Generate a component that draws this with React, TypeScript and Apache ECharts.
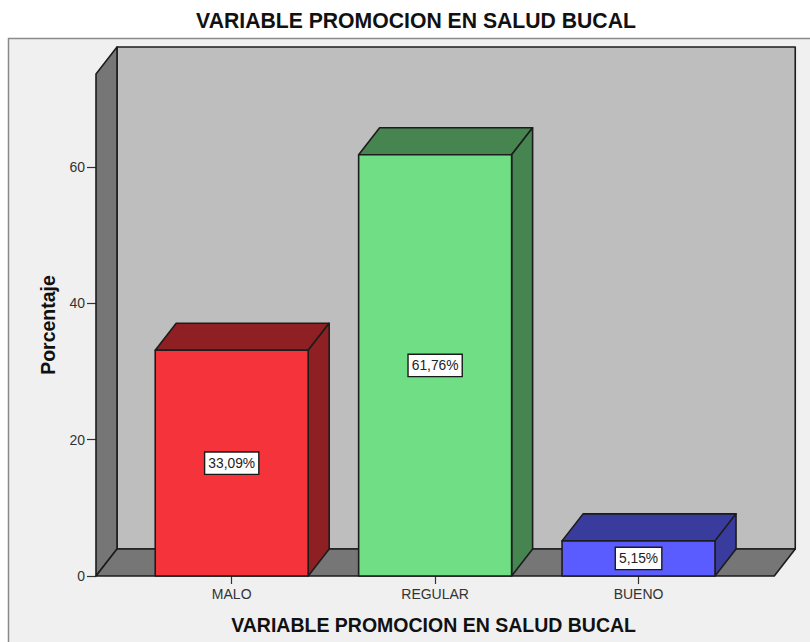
import React, { useEffect, useRef } from "react";
import * as echarts from "echarts";

const categories = ["MALO", "REGULAR", "BUENO"];
const values = [33.09, 61.76, 5.15];
const valueLabels = ["33,09%", "61,76%", "5,15%"];
const frontColors = ["#F5333A", "#70DE85", "#5A5CFF"];
const topColors = ["#8E1F23", "#468550", "#393C9C"];
const yTicks = [0, 20, 40, 60];
const titleText = "VARIABLE PROMOCION EN SALUD BUCAL";
const xName = "VARIABLE PROMOCION EN SALUD BUCAL";
const yName = "Porcentaje";
const yMax = 73.6;

const DX = 21;
const DY = -27;
const OUTER = 34;
const LINE = "#1c1c1c";
const FONT = '"Liberation Sans", Arial, sans-serif';

const poly = (points: number[][], fill: string) => ({
  type: "polygon",
  shape: { points },
  style: { fill, stroke: LINE, lineWidth: 1.6, lineJoin: "round" },
});

export default function App() {
  const ref = useRef<HTMLDivElement>(null);
  useEffect(() => {
    const chart = echarts.init(ref.current!, null, { renderer: "svg" });
    chart.setOption({
      animation: false,
      backgroundColor: "#ffffff",
      graphic: [
        {
          type: "rect",
          z: -10,
          shape: { x: 8.5, y: 38.5, width: 830, height: 640 },
          style: { fill: "#F0F0F0", stroke: "#8a8a8a", lineWidth: 1.5 },
        },
      ],
      title: {
        text: titleText,
        left: 411,
        top: 5,
        textAlign: "center",
        textStyle: { fontFamily: FONT, fontSize: 21.2, fontWeight: "bold", color: "#111" },
      },
      grid: { left: 130, right: 69.75, top: 74, bottom: 66 },
      xAxis: {
        type: "category",
        data: categories,
        name: xName,
        nameLocation: "middle",
        nameGap: 39,
        nameTextStyle: { fontFamily: FONT, fontSize: 19.5, fontWeight: "bold", color: "#111", padding: [0, 3, 0, 0] },
        axisLine: { show: false },
        axisTick: { show: true, alignWithLabel: true, length: 8, lineStyle: { color: "#333", width: 1.2 } },
        axisLabel: { margin: 11, fontFamily: FONT, fontSize: 14, color: "#333" },
      },
      yAxis: {
        type: "value",
        min: 0,
        max: yMax,
        offset: OUTER,
        name: yName,
        nameLocation: "middle",
        nameGap: 38,
        nameTextStyle: { fontFamily: FONT, fontSize: 19.5, fontWeight: "bold", color: "#111" },
        splitLine: { show: false },
        axisLine: { show: false },
        axisTick: { show: true, length: 9, lineStyle: { color: "#333", width: 1.2 }, customValues: yTicks },
        axisLabel: { margin: 11, fontFamily: FONT, fontSize: 14, color: "#333", customValues: yTicks, padding: [6, 0, 0, 0] },
      },
      series: [
        {
          type: "custom",
          z: 1,
          silent: true,
          clip: false,
          data: [[0, yMax]],
          renderItem: (_p: any, api: any) => {
            const [, y0] = api.coord([0, 0]);
            const [, yT] = api.coord([0, yMax]);
            const band = api.size([1, 0])[0];
            const xL = api.coord([0, 0])[0] - band / 2 - OUTER;
            const xR = api.coord([categories.length - 1, 0])[0] + band / 2 + OUTER;
            return {
              type: "group",
              children: [
                poly([[xL + DX, yT + DY], [xR + DX, yT + DY], [xR + DX, y0 + DY], [xL + DX, y0 + DY]], "#BEBEBE"),
                poly([[xL, yT], [xL + DX, yT + DY], [xL + DX, y0 + DY], [xL, y0]], "#767676"),
                poly([[xL, y0], [xL + DX, y0 + DY], [xR + DX, y0 + DY], [xR, y0]], "#767676"),
              ],
            };
          },
        },
        {
          type: "custom",
          z: 2,
          silent: true,
          clip: false,
          data: values.map((v, i) => [i, v]),
          renderItem: (p: any, api: any) => {
            const i = api.value(0);
            const v = api.value(1);
            const [cx, yTop] = api.coord([i, v]);
            const [, y0] = api.coord([i, 0]);
            const w = api.size([1, 0])[0] * 0.752;
            const l = cx - w / 2;
            const r = cx + w / 2;
            return {
              type: "group",
              children: [
                poly([[l, yTop], [l + DX, yTop + DY], [r + DX, yTop + DY], [r, yTop]], topColors[p.dataIndex]),
                poly([[r, yTop], [r + DX, yTop + DY], [r + DX, y0 + DY], [r, y0]], topColors[p.dataIndex]),
                poly([[l, yTop], [r, yTop], [r, y0], [l, y0]], frontColors[p.dataIndex]),
                {
                  type: "text",
                  x: cx,
                  y: (yTop + y0) / 2,
                  style: {
                    text: valueLabels[p.dataIndex],
                    align: "center",
                    verticalAlign: "middle",
                    font: `13.8px ${FONT}`,
                    fill: "#222",
                    backgroundColor: "#fff",
                    borderColor: "#1a1a1a",
                    borderWidth: 1.4,
                    padding: [4, 3, 3, 3],
                  },
                },
              ],
            };
          },
        },
      ],
    });
    return () => chart.dispose();
  }, []);
  return <div ref={ref} style={{ position: "fixed", left: 0, top: 0, width: 810, height: 642 }} />;
}
